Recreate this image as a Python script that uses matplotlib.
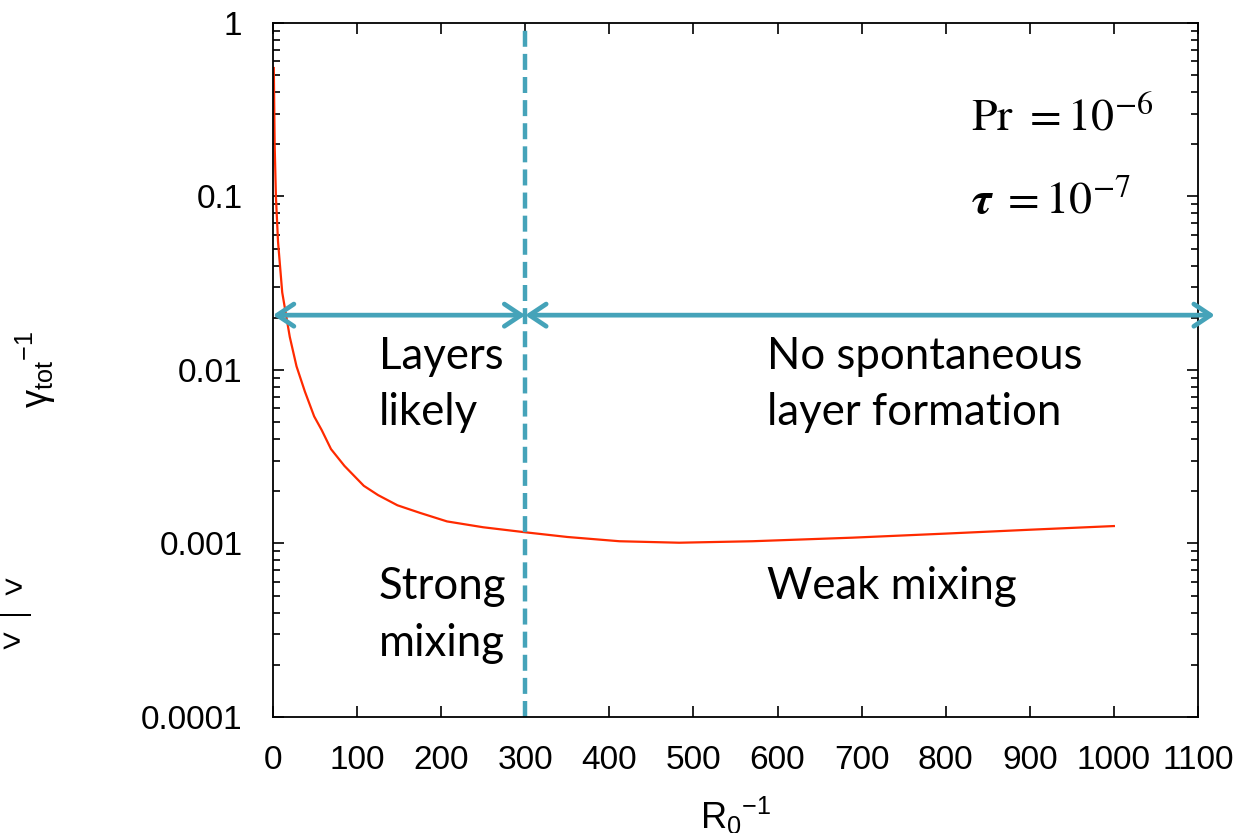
import matplotlib
matplotlib.use("Agg")
import matplotlib.pyplot as plt
from matplotlib.ticker import FixedLocator, FixedFormatter, LogLocator, NullFormatter

# curve
r_inv = [1, 2, 3.5, 6, 11, 20, 28, 38, 49, 58, 69, 85, 108, 125, 148, 175, 207,
         250, 300, 350, 412, 483, 570, 689, 800, 900, 1000]
gamma_inv = [0.55, 0.2, 0.1, 0.055, 0.028, 0.0155, 0.0105, 0.0075, 0.0054, 0.0045,
             0.0035, 0.0028, 0.00215, 0.0019, 0.00166, 0.0015, 0.00134, 0.00124,
             0.00116, 0.00109, 0.00103, 0.00101, 0.00103, 0.00108, 0.00114,
             0.0012, 0.00126]

x_ticks = [0, 100, 200, 300, 400, 500, 600, 700, 800, 900, 1000, 1100]
y_ticks = [1e-4, 1e-3, 1e-2, 1e-1, 1]
y_labels = ["0.0001", "0.001", "0.01", "0.1", "1"]

r_split = 300
arrow_y = 0.0207
arrow_right_end = 1120

blue = "#45a3b9"
annot_font = "Lato"
axis_font = "Liberation Sans"

plt.rcParams["mathtext.fontset"] = "custom"
plt.rcParams["mathtext.rm"] = axis_font
plt.rcParams["mathtext.it"] = axis_font
plt.rcParams["mathtext.bf"] = axis_font + ":bold"
plt.rcParams["mathtext.sf"] = axis_font

fig = plt.figure(figsize=(12.51, 8.33), dpi=100)
ax = fig.add_axes([0.2182, 0.1393, 0.7394, 0.8331])

ax.plot(r_inv, gamma_inv, color="#ff2a00", linewidth=1.6)
ax.set_yscale("log")
ax.set_xlim(0, 1100)
ax.set_ylim(1e-4, 1)

ax.axvline(r_split, color=blue, linewidth=3.2, dashes=(3.6, 1.6), clip_on=False)

arrow = dict(arrowstyle="<->,head_length=1.2,head_width=0.8", color=blue,
             linewidth=3.4, shrinkA=0, shrinkB=0)
ax.annotate("", xy=(0, arrow_y), xytext=(r_split, arrow_y), arrowprops=arrow,
            annotation_clip=False)
ax.annotate("", xy=(r_split, arrow_y), xytext=(arrow_right_end, arrow_y),
            arrowprops=arrow, annotation_clip=False)

ax.xaxis.set_major_locator(FixedLocator(x_ticks))
ax.yaxis.set_major_locator(FixedLocator(y_ticks))
ax.yaxis.set_major_formatter(FixedFormatter(y_labels))
ax.yaxis.set_minor_locator(LogLocator(base=10, subs=range(2, 10), numticks=20))
ax.yaxis.set_minor_formatter(NullFormatter())
ax.tick_params(which="both", direction="in", top=True, right=True, width=1.2)
ax.tick_params(which="major", length=8)
ax.tick_params(which="minor", length=5)
ax.tick_params(axis="x", labelsize=24, pad=20)
ax.tick_params(axis="y", labelsize=24, pad=22)
for lab in ax.get_xticklabels() + ax.get_yticklabels():
    lab.set_family(axis_font)
for s in ax.spines.values():
    s.set_linewidth(1.3)

ax.set_xlabel(r"R$_0$$^{-1}$", fontsize=26, family=axis_font, labelpad=14)
ax.set_ylabel(r"$\gamma_{tot}$$^{-1}$", fontsize=26, family=axis_font)
ax.yaxis.set_label_coords(-0.232, 0.5)

# region labels
txt = dict(fontsize=31.5, family=annot_font, va="top", ha="left", linespacing=1.48)
ax.text(126, 0.0158, "Layers\nlikely", **txt)
ax.text(588, 0.0158, "No spontaneous\nlayer formation", **txt)
ax.text(126, 0.00074, "Strong\nmixing", **txt)
ax.text(588, 0.00074, "Weak mixing", **txt)

ax.text(830, 0.28, r"$\mathrm{Pr}\ =10^{-6}$", fontsize=33, va="center", ha="left",
        math_fontfamily="stix")
ax.text(830, 0.095, r"$\boldsymbol{\tau}\ =10^{-7}$", fontsize=33, va="center",
        ha="left", math_fontfamily="stix")

# cut-off fragment at the left edge (only its right end shows)
fig.text(0.024, 0.262, r"$\frac{\langle wT\ >}{\langle w^2\ >}$", fontsize=34,
         ha="right", va="center", rotation=0, family=axis_font)

fig.savefig("out.png", dpi=100)
